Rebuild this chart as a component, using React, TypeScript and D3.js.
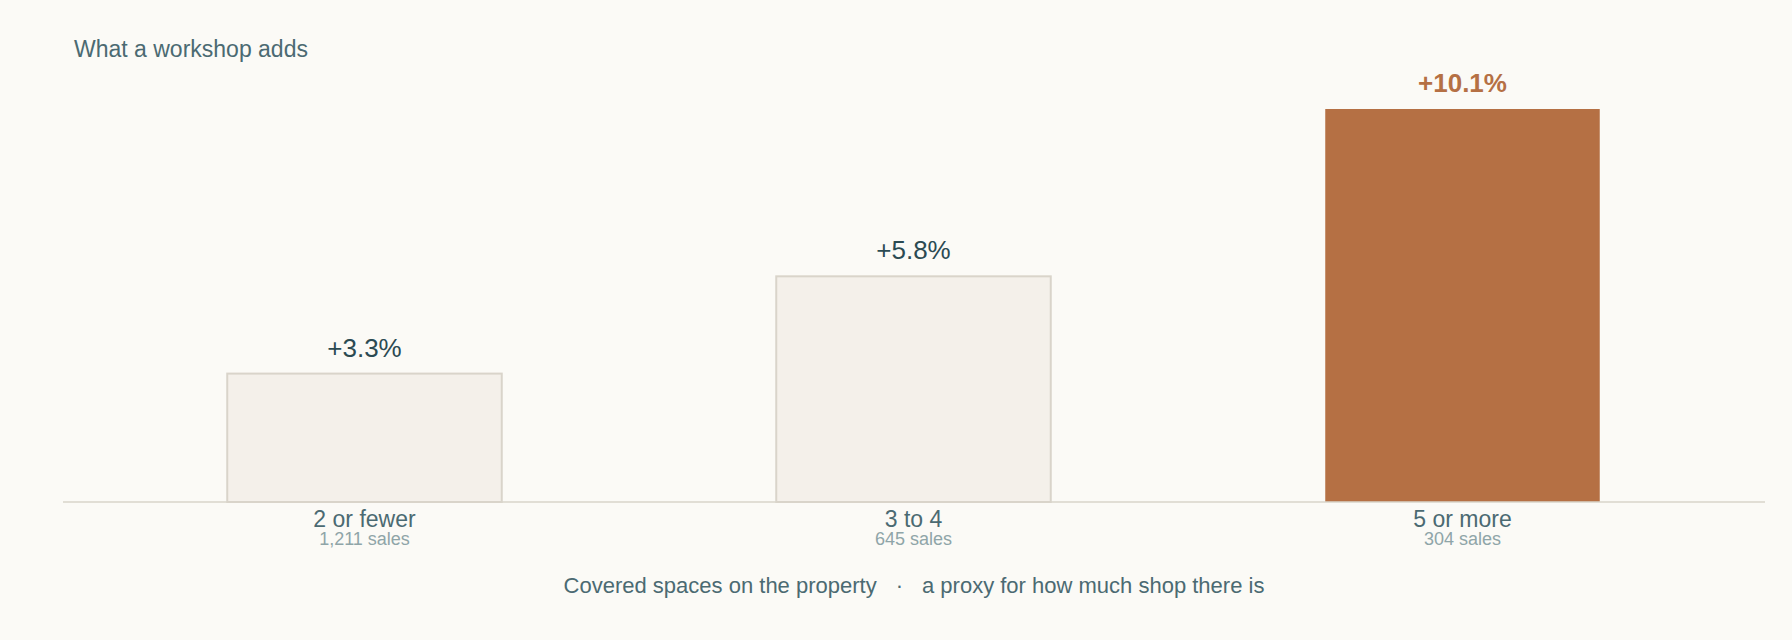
import React from 'react';
import * as d3 from 'd3';

const categories = ['2 or fewer', '3 to 4', '5 or more'];
const premiums = [3.3, 5.8, 10.1];
const salesCounts = [1211, 645, 304];
const highlightIndex = 2;

const width = 1792;
const height = 640;
const baseY = 502;
const font = '"Liberation Sans", Arial, sans-serif';

const App: React.FC = () => {
  const x = d3.scaleBand<string>()
    .domain(categories)
    .range([90, 1737])
    .paddingInner(0.5)
    .paddingOuter(0.25);

  const y = d3.scaleLinear()
    .domain([0, d3.max(premiums) as number])
    .range([baseY, 109]);

  const fmtPct = (v: number) => `+${d3.format('.1f')(v)}%`;
  const fmtSales = (v: number) => `${d3.format(',')(v)} sales`;

  return (
    <div style={{ position: 'fixed', left: 0, top: 0, width, height, background: '#fbfaf6' }}>
      <svg width={width} height={height} viewBox={`0 0 ${width} ${height}`} style={{ display: 'block' }}>
        <rect width={width} height={height} fill="#fbfaf6" />

        <text x={74} y={57} fontFamily={font} fontSize={23} fill="#4b6a72">
          What a workshop adds
        </text>

        {/* bars */}
        {categories.map((c, i) => {
          const hi = i === highlightIndex;
          const bx = x(c) as number;
          const by = y(premiums[i]);
          return (
            <g key={c}>
              <rect
                x={bx}
                y={by}
                width={x.bandwidth()}
                height={baseY - by}
                fill={hi ? '#b57044' : '#f4f0ea'}
                stroke={hi ? 'none' : '#d9d4ca'}
                strokeWidth={2}
              />
              <text
                x={bx + x.bandwidth() / 2}
                y={by - 17}
                textAnchor="middle"
                fontFamily={font}
                fontSize={26}
                fontWeight={hi ? 700 : 400}
                fill={hi ? '#b57044' : '#2b4a52'}
              >
                {fmtPct(premiums[i])}
              </text>
            </g>
          );
        })}

        {/* baseline */}
        <line x1={63} x2={1765} y1={baseY} y2={baseY} stroke="#d9d4ca" strokeWidth={1.5} />

        {/* category labels */}
        {categories.map((c, i) => {
          const cx = (x(c) as number) + x.bandwidth() / 2;
          return (
            <g key={`lab-${c}`}>
              <text x={cx} y={baseY + 25} textAnchor="middle" fontFamily={font} fontSize={23} fill="#4b6a72">
                {c}
              </text>
              <text x={cx} y={baseY + 43} textAnchor="middle" fontFamily={font} fontSize={18} fill="#8fa5a8">
                {fmtSales(salesCounts[i])}
              </text>
            </g>
          );
        })}

        <text x={914} y={593} textAnchor="middle" fontFamily={font} fontSize={22} fill="#4b6a72">
          <tspan>Covered spaces on the property</tspan>
          <tspan dx={19}>·</tspan>
          <tspan dx={19}>a proxy for how much shop there is</tspan>
        </text>
      </svg>
    </div>
  );
};

export default App;
